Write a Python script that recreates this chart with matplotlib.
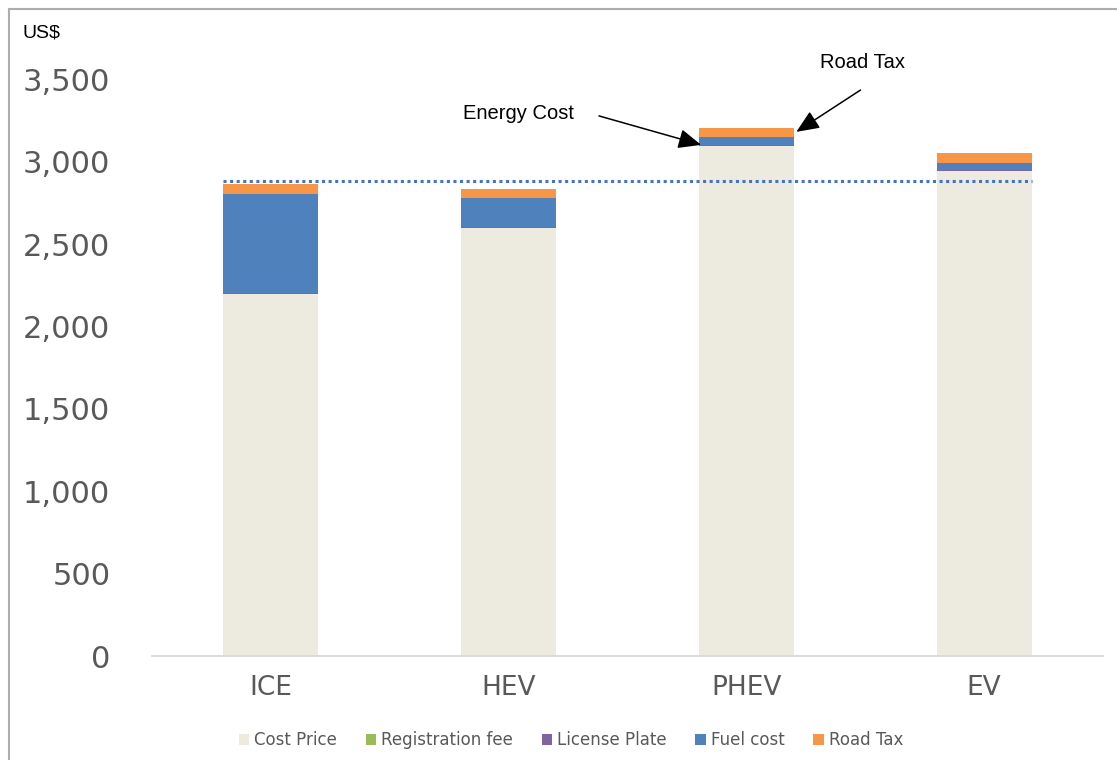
import matplotlib
matplotlib.use("Agg")
import matplotlib.pyplot as plt
from matplotlib.patches import Patch
from matplotlib.lines import Line2D
from matplotlib.ticker import FuncFormatter, MultipleLocator

# ---- data (US$) ----
categories = ["ICE", "HEV", "PHEV", "EV"]
cost_price = [2195, 2597, 3095, 2944]
registration_fee = [5, 2, 4, 2]
license_plate = [3, 3, 2, 4]
fuel_cost = [600, 180, 50, 46]
road_tax = [60, 56, 55, 59]
reference_level = 2885

series = [
    ("Cost Price", cost_price, "#EDEBE0"),
    ("Registration fee", registration_fee, "#9BBB59"),
    ("License Plate", license_plate, "#8064A2"),
    ("Fuel cost", fuel_cost, "#4F81BD"),
    ("Road Tax", road_tax, "#F79646"),
]

plt.rcParams["font.family"] = ["DejaVu Sans"]

W, H = 1117, 760
fig = plt.figure(figsize=(W / 100, H / 100), dpi=100)
ax = fig.add_axes([152 / W, (H - 656) / H, (1103 - 152) / W, (656 - 79.5) / H])

x = list(range(len(categories)))
bar_w = 0.4
bottom = [0] * len(categories)
for name, vals, col in series:
    ax.bar(x, vals, bar_w, bottom=bottom, color=col, edgecolor="none", label=name)
    bottom = [b + v for b, v in zip(bottom, vals)]

# dotted benchmark line across the bars
ax.plot([x[0] - bar_w / 2, x[-1] + bar_w / 2], [reference_level] * 2,
        color="#4472C4", lw=2.2, linestyle=(0, (1, 1.15)),
        dash_capstyle="butt", zorder=3)

ax.set_xlim(-0.5, len(categories) - 0.5)
ax.set_ylim(0, 3500)
ax.yaxis.set_major_locator(MultipleLocator(500))
ax.yaxis.set_major_formatter(FuncFormatter(lambda v, p: f"{int(v):,}"))
ax.set_xticks(x)
ax.set_xticklabels(categories)
ax.tick_params(axis="y", length=0, pad=30, labelsize=22, labelcolor="#595959")
ax.tick_params(axis="x", length=0, pad=14, labelsize=19, labelcolor="#595959")
for s in ("top", "right", "left"):
    ax.spines[s].set_visible(False)
ax.spines["bottom"].set_color("#D9D9D9")
ax.spines["bottom"].set_linewidth(1.3)

# callouts
ann_font = dict(family="Liberation Sans", fontsize=14.5, color="black")
arrow = dict(arrowstyle="-|>,head_length=0.7,head_width=0.3", color="black",
             lw=1.1, mutation_scale=20, shrinkA=0, shrinkB=0)
ax.text(1.04, 3291, "Energy Cost", ha="center", va="center", **ann_font)
ax.annotate("", xy=(1.81, cost_price[2] + 8), xytext=(1.38, 3279),
            arrowprops=arrow, annotation_clip=False)
ax.text(2.49, 3606, "Road Tax", ha="center", va="center", clip_on=False, **ann_font)
ax.annotate("", xy=(2.21, 3182), xytext=(2.48, 3436),
            arrowprops=arrow, annotation_clip=False)

fig.text(22 / W, 1 - 33 / H, "US$", ha="left", va="center",
         family="Liberation Sans", fontsize=14, color="black")

# legend
handles = [Patch(facecolor=c, edgecolor="none", label=n) for n, _, c in series]
leg = fig.legend(handles=handles, loc="center", bbox_to_anchor=(571 / W, 1 - 740 / H),
                 ncol=5, frameon=False, fontsize=12, handlelength=0.65,
                 handleheight=0.65, handletextpad=0.3, columnspacing=1.7)
for t in leg.get_texts():
    t.set_color("#595959")

# chart-area border (left and top edges)
fig.add_artist(Line2D([8.5 / W, 8.5 / W], [0, 1 - 8.5 / H], transform=fig.transFigure,
                      color="#ADADAD", lw=1.5))
fig.add_artist(Line2D([8.5 / W, 1], [1 - 8.5 / H, 1 - 8.5 / H], transform=fig.transFigure,
                      color="#ADADAD", lw=1.5))

fig.savefig("out.png", dpi=100, facecolor="white")
